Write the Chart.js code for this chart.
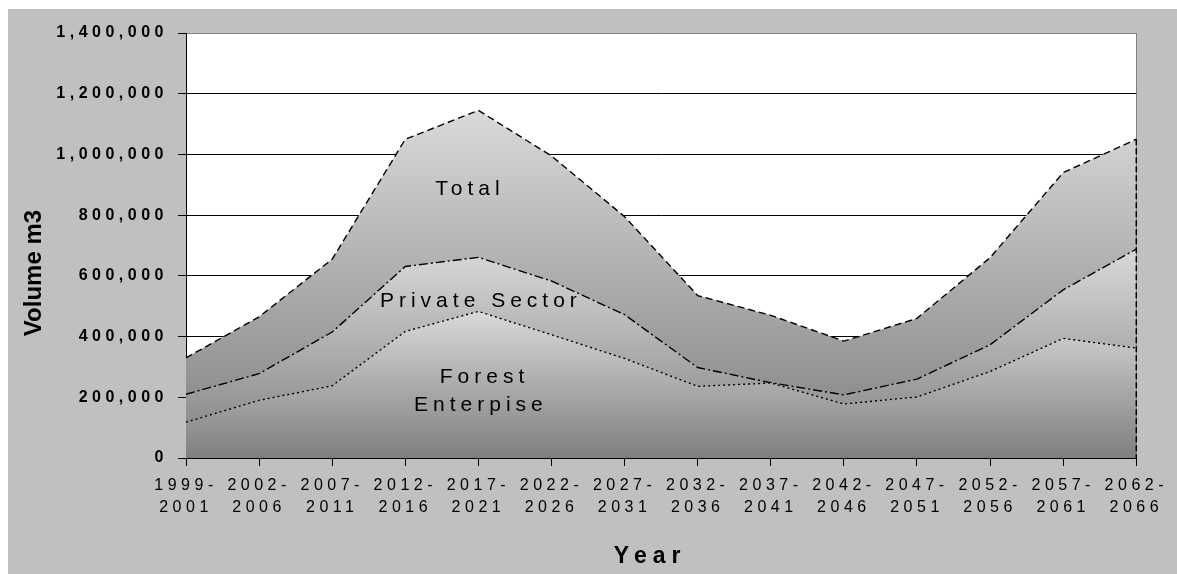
<!DOCTYPE html>
<html>
<head>
<meta charset="utf-8">
<title>Volume m3 by period</title>
<script src="https://cdn.jsdelivr.net/npm/chart.js@4.4.1/dist/chart.umd.min.js"></script>
<style>
    html, body { margin: 0; padding: 0; background: #fff; }
    .frame { position: absolute; left: 8px; top: 9px; width: 1169px; height: 565px; background: #c0c0c0; }
    canvas { display: block; }
</style>
</head>
<body>
<div class="frame"><canvas id="volumeChart"></canvas></div>
<script>
// Data (m3 per period)
const periods = ['1999-2001', '2002-2006', '2007-2011', '2012-2016', '2017-2021', '2022-2026', '2027-2031',
                 '2032-2036', '2037-2041', '2042-2046', '2047-2051', '2052-2056', '2057-2061', '2062-2066'];
const totalVolume = [330000, 465000, 655000, 1050000, 1145000, 995000, 795000,
                     535000, 470000, 385000, 460000, 660000, 940000, 1050000];
const privateSector = [210000, 278000, 415000, 631000, 661000, 583000, 472000,
                       298000, 248000, 208000, 260000, 373000, 554000, 688000];
const forestEnterprise = [118000, 190000, 238000, 417000, 483000, 406000, 328000,
                          236000, 247000, 178000, 201000, 285000, 394000, 362000];
const yMax = 1400000;
const yStep = 200000;

// "1999-2001" -> ["1999-", "2001"]
const labels = periods.map(p => [p.slice(0, 5), p.slice(5)]);

const FONT = '"Liberation Sans", Arial, sans-serif';
Chart.defaults.font.family = FONT;
Chart.defaults.color = '#000';

function areaGradient(context) {
    const { chart, dataset } = context;
    const { ctx, chartArea, scales } = chart;
    if (!chartArea) return '#b0b0b0';
    const top = scales.y.getPixelForValue(Math.max(...dataset.data));
    const g = ctx.createLinearGradient(0, top, 0, chartArea.bottom);
    g.addColorStop(0, '#d9d9d9');
    g.addColorStop(1, '#7f7f7f');
    return g;
}

// white plot area, letter spacing for axis text, texts drawn inside the chart
const chartText = {
    id: 'chartText',
    beforeUpdate(chart) { chart.ctx.letterSpacing = '4.5px'; },
    beforeDraw(chart) {
        const { ctx, chartArea: a } = chart;
        ctx.letterSpacing = '4.5px';
        ctx.save();
        ctx.fillStyle = '#fff';
        ctx.fillRect(a.left, a.top, a.right - a.left, a.bottom - a.top);
        ctx.restore();
    },
    afterDatasetsDraw(chart) {
        // dashed right edge of the Total area
        const { ctx, scales: { y } } = chart;
        const pts = chart.getDatasetMeta(2).data;
        const last = pts[pts.length - 1];
        ctx.save();
        ctx.strokeStyle = '#000';
        ctx.lineWidth = 1.5;
        ctx.setLineDash([6, 3]);
        ctx.beginPath();
        ctx.moveTo(last.x, last.y);
        ctx.lineTo(last.x, y.getPixelForValue(0));
        ctx.stroke();
        ctx.restore();
    },
    afterDraw(chart) {
        const { ctx, scales: { x, y } } = chart;
        ctx.save();
        ctx.fillStyle = '#000';
        ctx.textAlign = 'center';
        ctx.textBaseline = 'middle';

        // area names
        ctx.font = '21px ' + FONT;
        ctx.letterSpacing = '5px';
        [['Total', 3.85, 884000], ['Private Sector', 4, 518000],
         ['Forest', 4.05, 265000], ['Enterpise', 4, 173000]].forEach(([t, i, v]) => {
            ctx.fillText(t, x.getPixelForValue(i) + 2.5, y.getPixelForValue(v));
        });

        // x title
        ctx.font = 'bold 23px ' + FONT;
        ctx.letterSpacing = '6px';
        ctx.fillText('Year', (x.left + x.right) / 2 - 11, chart.height - 17.5);

        // y title
        ctx.letterSpacing = '0px';
        ctx.font = 'bold 24px ' + FONT;
        ctx.translate(26, (y.top + y.bottom) / 2 + 27.5);
        ctx.rotate(-Math.PI / 2);
        ctx.fillText('Volume m3', 0, 0);
        ctx.restore();
    }
};

const lineStyle = { fill: 'origin', backgroundColor: areaGradient, borderColor: '#000', borderWidth: 1.4, pointRadius: 0, tension: 0 };

new Chart(document.getElementById('volumeChart'), {
    type: 'line',
    data: {
        labels: labels,
        datasets: [
            { ...lineStyle, label: 'Forest Enterprise', data: forestEnterprise, borderDash: [2, 3] },
            { ...lineStyle, label: 'Private Sector', data: privateSector, borderDash: [9, 3, 2, 3] },
            { ...lineStyle, label: 'Total', data: totalVolume, borderDash: [7, 4] }
        ]
    },
    options: {
        responsive: true,
        maintainAspectRatio: false,
        animation: false,
        layout: { padding: { left: 0, top: 24, right: 40, bottom: 0 } },
        plugins: {
            legend: { display: false },
            tooltip: { enabled: false }
        },
        scales: {
            x: {
                offset: false,
                grid: {
                    color: c => c.index === periods.length - 1 ? '#808080' : 'rgba(0,0,0,0)',
                    tickColor: '#000',
                    tickLength: 8
                },
                border: { color: '#000' },
                ticks: {
                    color: '#000',
                    font: { size: 16, lineHeight: 1.35 },
                    padding: 9,
                    maxRotation: 0,
                    autoSkip: false
                },
                afterFit: s => { s.height = 116; }
            },
            y: {
                min: 0,
                max: yMax,
                grid: {
                    color: c => c.tick && c.tick.value === yMax ? '#808080' : '#000',
                    tickColor: '#000',
                    tickLength: 8
                },
                border: { color: '#000' },
                ticks: {
                    stepSize: yStep,
                    color: '#000',
                    font: { size: 16, weight: 'bold' },
                    padding: 10,
                    callback: v => v.toLocaleString('en-US')
                },
                afterFit: s => { s.width = 178; }
            }
        }
    },
    plugins: [chartText]
});
</script>
</body>
</html>
